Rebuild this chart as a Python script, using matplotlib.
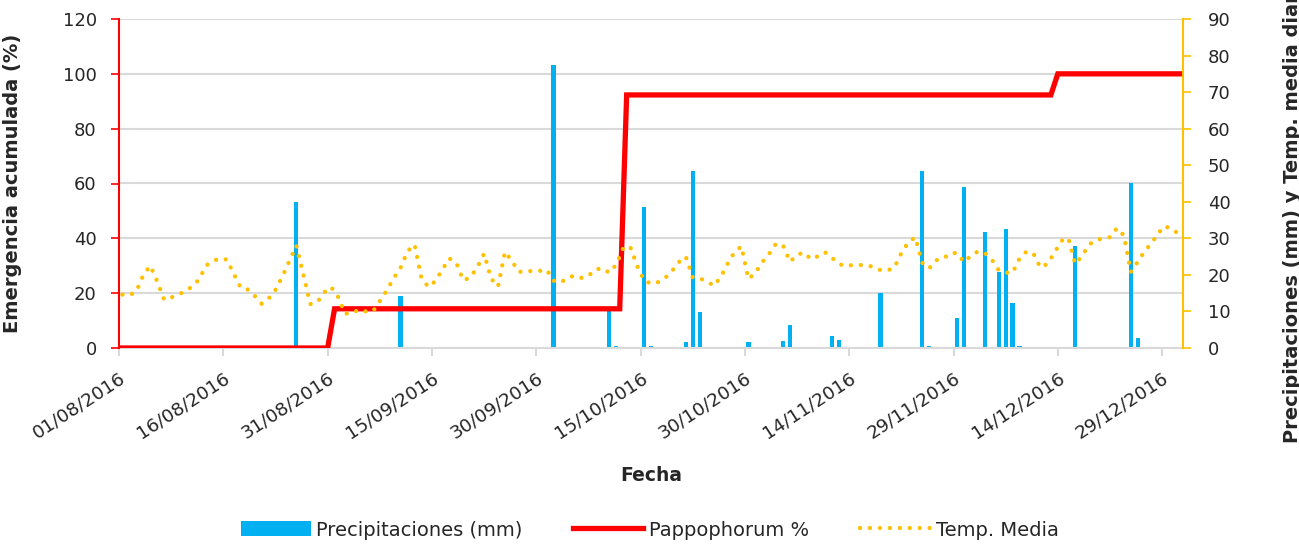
import numpy as np
import pandas as pd
import matplotlib
matplotlib.use("Agg")
import matplotlib.pyplot as plt
from matplotlib.patches import Patch
from matplotlib.lines import Line2D

plt.rcParams['font.family'] = ['DejaVu Sans']

start = pd.Timestamp("2016-08-01")

# ---- data ----
rain_dates = ["2016-08-26", "2016-09-10", "2016-10-02", "2016-10-09", "2016-10-10",
              "2016-10-11", "2016-10-14", "2016-10-15", "2016-10-16", "2016-10-21",
              "2016-10-22", "2016-10-23", "2016-10-29", "2016-10-30", "2016-11-04",
              "2016-11-05", "2016-11-08", "2016-11-11", "2016-11-12", "2016-11-18",
              "2016-11-19", "2016-11-24", "2016-11-25", "2016-11-29", "2016-11-30",
              "2016-12-01", "2016-12-03", "2016-12-05", "2016-12-06", "2016-12-07",
              "2016-12-08", "2016-12-16", "2016-12-17", "2016-12-24", "2016-12-25"]
rain_mm = [40.0, 14.1, 77.5, 0.2, 10.5,
           0.6, 0.2, 38.6, 0.6, 1.7,
           48.4, 9.8, 0.2, 1.7, 2.0,
           6.3, 0.2, 3.2, 2.3, 15.0,
           0.2, 48.3, 0.6, 8.2, 44.0,
           0.2, 31.6, 20.7, 32.6, 12.3,
           0.6, 27.8, 0.2, 45.1, 2.7]

papp_dates = ["2016-08-01", "2016-08-31", "2016-09-01", "2016-10-12",
              "2016-10-13", "2016-12-13", "2016-12-14", "2017-01-01"]
papp_pct = [0, 0, 14.3, 14.3, 92.3, 92.3, 100, 100]

# daily mean temperature from 01/08/2016 to 31/12/2016
temp_media = [14.6, 14.4, 15.5, 20.0, 22.5, 18.2, 13.2, 13.8, 14.6, 15.5,
              16.8, 18.7, 22.5, 23.8, 24.5, 24.2, 20.3, 16.5, 16.0, 14.3,
              12.1, 13.5, 15.9, 19.6, 23.8, 28.0, 20.2, 12.0, 12.5, 15.2,
              16.7, 14.0, 9.4, 9.5, 10.5, 10.0, 10.0, 12.8, 15.7, 19.1,
              22.0, 26.5, 28.3, 19.0, 16.7, 18.3, 21.5, 24.5, 23.3, 18.5,
              19.3, 22.0, 25.8, 19.0, 16.8, 26.3, 23.8, 20.8, 21.1, 21.0,
              21.1, 21.4, 18.4, 17.9, 19.2, 19.8, 19.2, 19.7, 21.5, 21.8,
              20.6, 22.8, 27.3, 27.8, 22.5, 18.5, 17.6, 18.0, 19.1, 21.0,
              23.5, 25.0, 19.3, 19.0, 18.4, 17.0, 19.3, 23.0, 26.2, 27.8,
              18.9, 20.5, 23.5, 25.8, 28.6, 28.0, 23.6, 25.5, 26.1, 24.3,
              25.1, 26.2, 24.7, 23.0, 22.4, 22.7, 22.7, 22.6, 22.2, 21.3,
              21.2, 22.0, 26.0, 28.9, 30.3, 23.3, 21.8, 24.0, 24.4, 25.9,
              26.0, 23.5, 25.2, 26.4, 26.0, 24.2, 21.3, 20.6, 20.6, 24.5,
              26.4, 25.8, 22.0, 23.0, 26.0, 29.3, 30.1, 23.0, 25.2, 28.3,
              29.5, 30.0, 30.3, 32.8, 30.8, 20.8, 23.6, 26.5, 28.7, 31.6,
              33.4, 32.0, 31.5]

tick_days = list(range(0, 151, 15))
n_days = 153

# ---- positions (days since 01/08/2016) ----
rain_x = (pd.to_datetime(rain_dates) - start).days.values + 0.5
papp_x = (pd.to_datetime(papp_dates) - start).days.values
temp_x = np.arange(len(temp_media)) + 0.5

BLUE = "#00B0F0"
RED = "#FF0000"
GOLD = "#FFC000"
GRID = "#D9D9D9"
TXT = "#262626"

fig = plt.figure(figsize=(12.99, 5.46), dpi=100)
rect = [119/1299, 1 - 348/546, (1183-119)/1299, (348-19)/546]
ax_bar = fig.add_axes(rect)
ax_red = ax_bar.twinx()
ax_tmp = ax_bar.twinx()

# bars (bottom layer)
ax_bar.bar(rain_x, rain_mm, width=0.62, color=BLUE, zorder=2)
ax_bar.set_ylim(0, 90)
ax_bar.set_yticks(np.arange(0, 91, 15))
ax_bar.yaxis.grid(True, color=GRID, linewidth=1.5)
ax_bar.set_axisbelow(True)
ax_bar.tick_params(axis='y', left=False, right=False, labelleft=False)

# red line, left axis
ax_red.plot(papp_x, papp_pct, color=RED, linewidth=3.8, solid_joinstyle='miter',
            solid_capstyle='butt')
ax_red.set_ylim(0, 120)
ax_red.set_yticks(np.arange(0, 121, 20))
ax_red.yaxis.set_ticks_position('left')
ax_red.yaxis.set_label_position('left')
ax_red.tick_params(axis='y', colors=RED, length=6, width=1.2, labelsize=13,
                   labelcolor=TXT, pad=10)
ax_red.set_ylabel("Emergencia acumulada (%)", fontsize=14, fontweight='bold', color=TXT)
ax_red.yaxis.set_label_coords((22 - 119) / 1064, 0.5)

# temperature, right axis
ax_tmp.plot(temp_x, temp_media, color=GOLD, linewidth=3.1,
            linestyle=(0, (0.01, 2.3)), dash_capstyle='round')
ax_tmp.set_ylim(0, 90)
ax_tmp.set_yticks(np.arange(0, 91, 10))
ax_tmp.tick_params(axis='y', colors=GOLD, length=6, width=1.2, labelsize=13,
                   labelcolor=TXT, pad=12)
ax_tmp.set_ylabel("Precipitaciones (mm) y Temp. media diaria (°C)", fontsize=14,
                  fontweight='bold', color=TXT)
ax_tmp.yaxis.set_label_coords((1283 - 119) / 1064, 0.5)

for a in (ax_bar, ax_red, ax_tmp):
    a.set_xlim(0, n_days)
    for s in a.spines.values():
        s.set_visible(False)

ax_red.spines['left'].set_visible(True)
ax_red.spines['left'].set_color(RED)
ax_red.spines['left'].set_linewidth(1.5)
ax_tmp.spines['right'].set_visible(True)
ax_tmp.spines['right'].set_color(GOLD)
ax_tmp.spines['right'].set_linewidth(1.5)
ax_bar.spines['bottom'].set_visible(True)
ax_bar.spines['bottom'].set_color(GRID)
ax_bar.spines['bottom'].set_linewidth(1.5)

tick_labels = [(start + pd.Timedelta(days=d)).strftime("%d/%m/%Y") for d in tick_days]
ax_bar.set_xticks(tick_days)
ax_bar.set_xticklabels(tick_labels, rotation=33, ha='right', va='top',
                       rotation_mode='anchor', fontsize=13.3, color=TXT)
ax_bar.tick_params(axis='x', colors=GRID, length=6, width=1.5, labelcolor=TXT, pad=9)
ax_red.tick_params(axis='x', bottom=False, labelbottom=False)
ax_tmp.tick_params(axis='x', bottom=False, labelbottom=False)
ax_bar.set_xlabel("Fecha", fontsize=13.5, fontweight='bold', color=TXT)
ax_bar.xaxis.set_label_coords(0.5, (348 - 466) / 329)

handles = [Patch(facecolor=BLUE, edgecolor='none'),
           Line2D([], [], color=RED, linewidth=3.8),
           Line2D([], [], color=GOLD, linewidth=3.1, linestyle=(0, (0.01, 2.3)),
                  dash_capstyle='round')]
labels = ["Precipitaciones (mm)", "Pappophorum %", "Temp. Media"]
fig.legend(handles, labels, loc='center', bbox_to_anchor=(0.5, 1 - 530/546), ncol=3,
           frameon=False, fontsize=14, handlelength=3.6, handleheight=0.8,
           handletextpad=0.3, columnspacing=2.6, labelcolor=TXT)

fig.savefig("out.png", dpi=100)
